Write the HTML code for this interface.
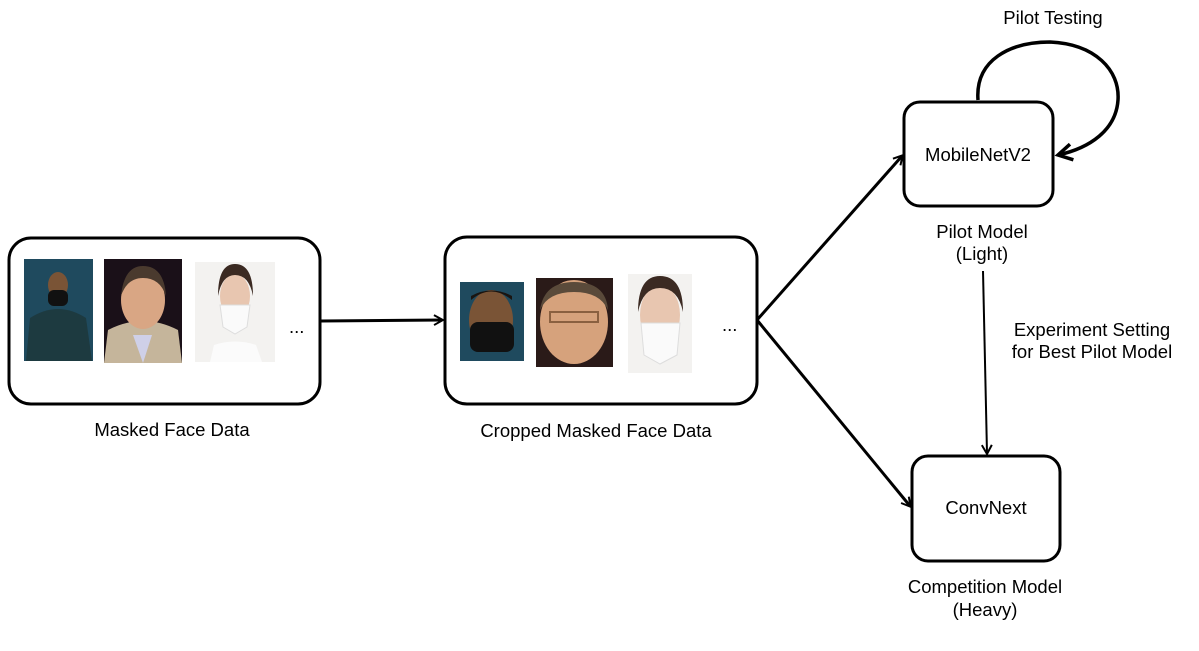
<!DOCTYPE html>
<html><head><meta charset="utf-8"><style>
html,body{margin:0;padding:0;background:#fff;}
svg{display:block}
text{font-family:"Liberation Sans",Arial,sans-serif;font-size:18.5px;fill:#000}
</style></head><body>
<svg width="1199" height="651" viewBox="0 0 1199 651" xmlns="http://www.w3.org/2000/svg">
<defs>
<marker id="ah" markerWidth="12" markerHeight="12" refX="9" refY="6" orient="auto" markerUnits="userSpaceOnUse">
<path d="M1,1 L10,6 L1,11" fill="none" stroke="#000" stroke-width="2"/>
</marker>
<marker id="ah2" markerWidth="22" markerHeight="22" refX="17" refY="11" orient="auto" markerUnits="userSpaceOnUse">
<path d="M3,3 L17,11 L3,19" fill="none" stroke="#000" stroke-width="3.5"/>
</marker>
</defs>
<rect x="9" y="238" width="311" height="166" rx="22" fill="none" stroke="#000" stroke-width="3"/>
<rect x="445" y="237" width="312" height="167" rx="22" fill="none" stroke="#000" stroke-width="3"/>
<rect x="904" y="102" width="149" height="104" rx="16" fill="none" stroke="#000" stroke-width="3"/>
<rect x="912" y="456" width="148" height="105" rx="16" fill="none" stroke="#000" stroke-width="3"/>

<rect x="24" y="259" width="69" height="102" fill="#1f4a5e"/>
<ellipse cx="58" cy="285" rx="10" ry="13" fill="#7a5436"/>
<rect x="48" y="290" width="20" height="16" rx="6" fill="#111"/>
<path d="M26,361 L30,318 Q58,300 86,318 L92,361 Z" fill="#1d3a40"/>
<rect x="104" y="259" width="78" height="104" fill="#1a1018"/>
<path d="M104,363 L108,330 Q143,312 178,330 L182,363 Z" fill="#c5b59b"/>
<path d="M133,335 L143,363 L152,335 Z" fill="#cfd0e8"/>
<ellipse cx="143" cy="300" rx="22" ry="29" fill="#d9a684"/>
<path d="M121,296 Q124,266 143,266 Q164,266 166,296 Q160,278 143,278 Q127,278 121,296Z" fill="#4a3a2e"/>
<rect x="195" y="262" width="80" height="100" fill="#f3f2f0"/>
<ellipse cx="235" cy="296" rx="15" ry="22" fill="#e8c6b0"/>
<path d="M218,296 Q218,264 235,264 Q253,264 253,296 Q249,275 235,275 Q222,275 218,296Z" fill="#3b2a22"/>
<path d="M220,305 L250,305 L247,327 L235,334 L223,327 Z" fill="#fafafa" stroke="#ddd"/>
<path d="M210,362 L214,345 Q235,338 256,345 L262,362 Z" fill="#fbfbfb"/>
<text x="289" y="333" font-size="14">...</text>

<rect x="460" y="282" width="64" height="79" fill="#1f4a5e"/>
<ellipse cx="491" cy="320" rx="22" ry="30" fill="#7a5436"/>
<path d="M471,300 Q491,283 512,300 L512,296 Q491,285 471,296Z" fill="#1a1410"/>
<rect x="470" y="322" width="44" height="30" rx="8" fill="#111"/>
<rect x="536" y="278" width="77" height="89" fill="#2a1a18"/>
<ellipse cx="574" cy="322" rx="34" ry="42" fill="#d6a27c"/>
<path d="M540,310 Q544,282 574,282 Q606,282 608,310 Q600,292 574,292 Q548,292 540,310Z" fill="#5a4a3a"/>
<rect x="550" y="312" width="48" height="10" fill="none" stroke="#8a6040" stroke-width="2"/>
<rect x="628" y="274" width="64" height="99" fill="#f3f2f0"/>
<ellipse cx="660" cy="315" rx="20" ry="30" fill="#e8c6b0"/>
<path d="M638,312 Q638,276 660,276 Q683,276 683,312 Q678,288 660,288 Q643,288 638,312Z" fill="#3b2a22"/>
<path d="M641,323 L680,323 L677,355 L660,364 L644,355 Z" fill="#fafafa" stroke="#ddd"/>
<text x="722" y="331" font-size="14">...</text>

<line x1="321" y1="321" x2="442" y2="320" stroke="#000" stroke-width="3" marker-end="url(#ah)"/>
<line x1="757" y1="320" x2="902" y2="156" stroke="#000" stroke-width="3" marker-end="url(#ah)"/>
<line x1="757" y1="320" x2="910" y2="506" stroke="#000" stroke-width="3" marker-end="url(#ah)"/>
<line x1="983" y1="271" x2="987" y2="453" stroke="#000" stroke-width="2" marker-end="url(#ah)"/>
<path d="M978,100 C975,60 1010,42 1050,42 C1095,44 1120,70 1118,100 C1116,130 1090,148 1058,155" fill="none" stroke="#000" stroke-width="3.5" marker-end="url(#ah2)"/>

<text x="172" y="436" text-anchor="middle">Masked Face Data</text>
<text x="596" y="437" text-anchor="middle">Cropped Masked Face Data</text>
<text x="978" y="161" text-anchor="middle">MobileNetV2</text>
<text x="986" y="514" text-anchor="middle">ConvNext</text>
<text x="1053" y="24" text-anchor="middle">Pilot Testing</text>
<text x="982" y="238" text-anchor="middle">Pilot Model</text>
<text x="982" y="260" text-anchor="middle">(Light)</text>
<text x="1092" y="336" text-anchor="middle">Experiment Setting</text>
<text x="1092" y="358" text-anchor="middle">for Best Pilot Model</text>
<text x="985" y="593" text-anchor="middle">Competition Model</text>
<text x="985" y="616" text-anchor="middle">(Heavy)</text>
</svg>
</body></html>
